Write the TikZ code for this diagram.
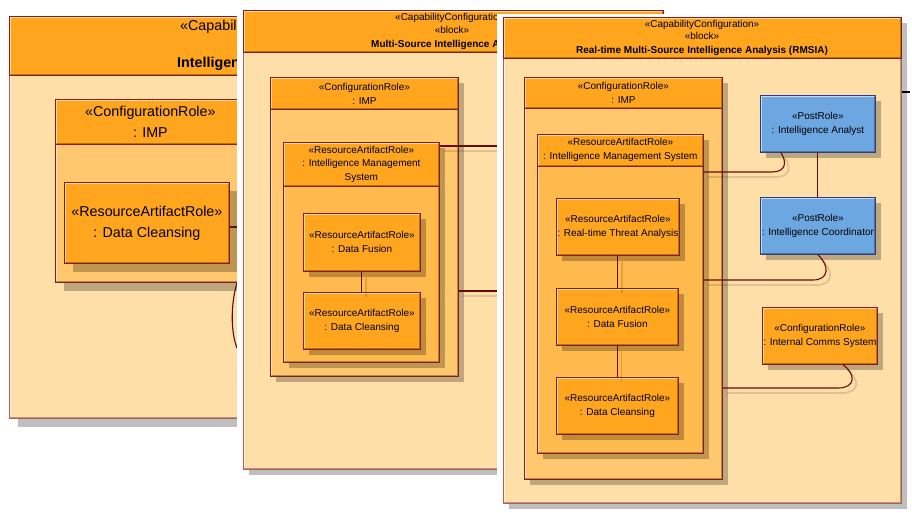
\documentclass[tikz,border=0pt]{standalone}
\usepackage{fontspec}
\setmainfont{Liberation Sans}
\usetikzlibrary{shadows,calc}

\definecolor{hdrorange}{HTML}{FFA61E}
\definecolor{panelbg}{HTML}{FFDFA8}
\definecolor{impbody}{HTML}{FFC86E}
\definecolor{imsbody}{HTML}{FFBA4E}
\definecolor{postblue}{HTML}{6CA7E2}
\definecolor{postbd}{HTML}{2E3A8C}
\definecolor{rolebd}{HTML}{8C1C1C}
\definecolor{panelbd}{HTML}{B65A5A}
\definecolor{linkcol}{HTML}{650A0A}

\tikzset{
  bevel/.style={path picture={
      \draw[white,opacity=.6,line width=3pt] (path picture bounding box.south west)
        -- (path picture bounding box.north west) -- (path picture bounding box.north east);
      \draw[black,opacity=.3,line width=3pt] (path picture bounding box.north east)
        -- (path picture bounding box.south east) -- (path picture bounding box.south west);}},
  shade6/.style={drop shadow={shadow xshift=6pt,shadow yshift=-6pt,fill=black,opacity=.25}},
  shade9/.style={drop shadow={shadow xshift=9pt,shadow yshift=-9pt,fill=black,opacity=.25}},
  f10/.style={font=\fontsize{10}{14}\selectfont},
  f14/.style={font=\fontsize{14.3}{21}\selectfont},
  panel/.style={draw=panelbd, line width=.8pt, fill=panelbg, bevel, anchor=north west, inner sep=0pt},
  hdr/.style={draw=rolebd, line width=.8pt, fill=hdrorange, bevel, anchor=north west, inner sep=0pt, align=center},
  post/.style={hdr, fill=postblue, draw=postbd},
  txt/.style={inner sep=0pt},
  link/.style={draw=linkcol, line width=1.1pt},
  cshadow/.style={draw=black, opacity=.13, line width=1.8pt, transform canvas={xshift=4pt,yshift=-5pt}}
}

\begin{document}
\begin{tikzpicture}[x=1pt,y=-1pt]
  \useasboundingbox (0,0) rectangle (912,513);

  % --- panel 1 (zoomed screenshot, behind) ---
  \node[panel, shade9, minimum width=300, minimum height=402] (pnl1) at (9,16) {};
  \node[hdr, minimum width=300, minimum height=59] (pnl1h) at (pnl1.north west) {};
  \node[txt, f14, anchor=west] (st1a) at (180,27) {«Capabili};
  \node[txt, f14, anchor=west] (tt1) at (177,64) {\bfseries Intelligen};

  \node[panel, shade9, fill=impbody, draw=rolebd, minimum width=190, minimum height=183] (imp1) at (55,99) {};
  \node[hdr, f14, minimum width=190, minimum height=45] (imp1h) at (imp1.north west) {«ConfigurationRole»\\: IMP};
  \node[hdr, shade9, f14, minimum width=165, minimum height=81] (dc1) at (64,182) {«ResourceArtifactRole»\\: Data Cleansing};

  \coordinate (c1a) at (252,227);
  \coordinate (c1b) at (238,280);
  \coordinate (c1c) at (237,348);
  \draw[link] ($(dc1.north east)+(0,45)$) -- (c1a);
  \draw[link] (c1b) .. controls (231,300) and (230,330) .. (c1c);

  % --- panel 2 ---
  \fill[white] (237,4) rectangle (503,482);
  \node[panel, shade6, minimum width=420, minimum height=459] (pnl2) at (243,10) {};
  \node[hdr, minimum width=420, minimum height=42] (pnl2h) at (pnl2.north west) {};
  \node[txt, f10, anchor=west] (st2a) at (395,18) {«CapabilityConfiguratio};
  \node[txt, f10] (st2b) at (452,30) {«block»};
  \node[txt, f10, anchor=west] (tt2) at (371,45) {\bfseries Multi-Source Intelligence A};

  \node[panel, shade6, fill=impbody, draw=rolebd, minimum width=188, minimum height=299] (imp2) at (270,77) {};
  \node[hdr, f10, minimum width=188, minimum height=32] (imp2h) at (imp2.north west) {«ConfigurationRole»\\: IMP};
  \node[panel, shade6, fill=imsbody, draw=rolebd, minimum width=156, minimum height=220] (ims2) at (283,142) {};
  \node[hdr, f10, font=\fontsize{10}{13.5}\selectfont, minimum width=156, minimum height=44] (ims2h) at (ims2.north west)
    {«ResourceArtifactRole»\\: Intelligence Management\\System};
  \node[hdr, shade6, f10, minimum width=117, minimum height=58] (df2) at (303,213) {«ResourceArtifactRole»\\: Data Fusion};
  \node[hdr, shade6, f10, minimum width=117, minimum height=57] (dc2) at (303,292) {«ResourceArtifactRole»\\: Data Cleansing};

  \draw[cshadow] (df2.south) -- (dc2.north);
  \draw[link] (df2.south) -- (dc2.north);
  \coordinate (c2a) at (515,146);
  \coordinate (c2b) at (515,291);
  \draw[cshadow] ($(ims2.north east)+(0,4)$) -- (c2a);
  \draw[link] ($(ims2.north east)+(0,4)$) -- (c2a);
  \draw[cshadow] ($(imp2.north east)+(0,214)$) -- (c2b);
  \draw[link] ($(imp2.north east)+(0,214)$) -- (c2b);

  % --- panel 3 (front) ---
  \fill[white] (497,14) rectangle (912,513);
  \node[panel, shade6, minimum width=398, minimum height=486] (pnl3) at (503,17) {};
  \node[hdr, minimum width=398, minimum height=41] (pnl3h) at (pnl3.north west) {};
  \node[txt, f10] (st3a) at (702,25) {«CapabilityConfiguration»};
  \node[txt, f10] (st3b) at (702,36) {«block»};
  \node[txt, f10] (tt3) at (702,51) {\bfseries Real-time Multi-Source Intelligence Analysis (RMSIA)};
  \draw[line width=1.2pt] (902,92) -- (910,92);

  \node[panel, shade6, fill=impbody, draw=rolebd, minimum width=198, minimum height=402] (imp3) at (524,77) {};
  \node[hdr, f10, minimum width=198, minimum height=31] (imp3h) at (imp3.north west) {«ConfigurationRole»\\: IMP};
  \node[panel, shade6, fill=imsbody, draw=rolebd, minimum width=166, minimum height=319] (ims3) at (537,134) {};
  \node[hdr, f10, minimum width=166, minimum height=32] (ims3h) at (ims3.north west)
    {«ResourceArtifactRole»\\: Intelligence Management System};
  \node[hdr, shade6, f10, minimum width=123, minimum height=57] (rta3) at (556,198) {«ResourceArtifactRole»\\: Real-time Threat Analysis};
  \node[hdr, shade6, f10, minimum width=122, minimum height=57] (df3) at (556,288) {«ResourceArtifactRole»\\: Data Fusion};
  \node[hdr, shade6, f10, minimum width=122, minimum height=57] (dc3) at (556,377) {«ResourceArtifactRole»\\: Data Cleansing};

  \node[post, shade6, f10, minimum width=115, minimum height=57] (ana3) at (760,95) {«PostRole»\\: Intelligence Analyst};
  \node[post, shade6, f10, minimum width=115, minimum height=57] (crd3) at (760,197) {«PostRole»\\: Intelligence Coordinator};
  \node[hdr, shade6, f10, minimum width=115, minimum height=57] (ics3) at (762,307) {«ConfigurationRole»\\: Internal Comms System};

  % links
  \draw[cshadow] (rta3.south) -- (rta3.south |- df3.north);
  \draw[link] (rta3.south) -- (rta3.south |- df3.north);
  \draw[cshadow] (df3.south) -- (df3.south |- dc3.north);
  \draw[link] (df3.south) -- (df3.south |- dc3.north);
  \draw[link] (ana3.south) -- (crd3.north);

  \draw[cshadow] ($(ims3.north east)+(0,38)$) -- (772,172) .. controls (786,172) and (787,162) .. ($(ana3.south west)+(21,0)$);
  \draw[link] ($(ims3.north east)+(0,38)$) -- (772,172) .. controls (786,172) and (787,162) .. ($(ana3.south west)+(21,0)$);
  \draw[cshadow] ($(ims3.north east)+(0,146)$) -- (813,280) .. controls (829,280) and (830,266) .. (crd3.south);
  \draw[link] ($(ims3.north east)+(0,146)$) -- (813,280) .. controls (829,280) and (830,266) .. (crd3.south);
  \draw[cshadow] ($(imp3.north east)+(0,311)$) -- (838,388) .. controls (856,388) and (856,374) .. ($(ics3.south west)+(81,0)$);
  \draw[link] ($(imp3.north east)+(0,311)$) -- (838,388) .. controls (856,388) and (856,374) .. ($(ics3.south west)+(81,0)$);
\end{tikzpicture}
\end{document}
